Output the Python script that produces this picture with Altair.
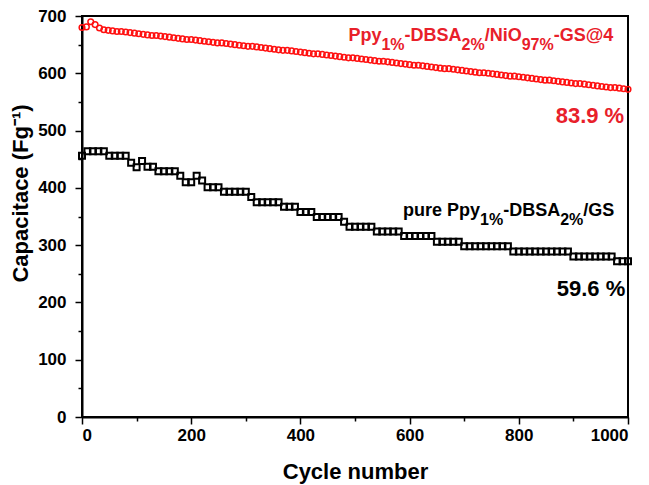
import altair as alt
import pandas as pd

# cycling data
black_cycles = list(range(0, 1001, 10))
black_cap = [456,
             464, 464, 464, 464,
             456, 456, 456, 456,
             444, 436, 447, 437, 437,
             429, 429, 429, 429,
             421, 410, 410, 421, 413,
             401, 401, 401,
             393, 393, 393, 393, 393,
             384,
             375, 375, 375, 375, 375,
             367, 367, 367,
             358, 358, 358,
             349, 349, 349, 349, 349,
             341,
             332, 332, 332, 332, 332,
             324, 324, 324, 324, 324,
             316, 316, 316, 316, 316, 316,
             306, 306, 306, 306, 306,
             298, 298, 298, 298, 298, 298, 298, 298, 298,
             289, 289, 289, 289, 289, 289, 289, 289, 289, 289, 289,
             280, 280, 280, 280, 280, 280, 280, 280,
             272, 272, 272]

red_cycles = list(range(0, 1001, 8))
red_cap = [680, 681, 690, 685, 679,
           676, 675, 674, 673, 673, 672, 671, 670, 669, 668,
           667, 666, 666, 665, 664, 663, 662, 661, 660, 659,
           659, 658, 657, 656, 655, 654, 653, 653, 652, 651,
           650, 649, 648, 647, 647, 646, 645, 644, 643, 642,
           641, 640, 640, 639, 638, 637, 636, 635, 634, 634,
           633, 632, 631, 630, 629, 628, 627, 627, 626, 625,
           624, 623, 622, 621, 621, 620, 619, 618, 617, 616,
           615, 614, 614, 613, 612, 611, 610, 609, 608, 608,
           607, 606, 605, 604, 603, 602, 601, 601, 600, 599,
           598, 597, 596, 595, 595, 594, 593, 592, 591, 590,
           589, 588, 588, 587, 586, 585, 584, 583, 582, 582,
           581, 580, 579, 578, 577, 576, 575, 575, 574, 573,
           572]

x_major = [0, 200, 400, 600, 800, 1000]
x_minor = [100, 300, 500, 700, 900]
y_major = [0, 100, 200, 300, 400, 500, 600, 700]
y_minor = [50, 150, 250, 350, 450, 550, 650]

assert len(black_cycles) == len(black_cap)
assert len(red_cycles) == len(red_cap)

black_df = pd.DataFrame({"cycle": black_cycles, "cap": black_cap})
red_df = pd.DataFrame({"cycle": red_cycles, "cap": red_cap})

FONT = "Liberation Sans"
RED = "#e8202a"
xs = alt.Scale(domain=[0, 1000], nice=False, zero=False)
ys = alt.Scale(domain=[0, 700], nice=False)

main_x = alt.Axis(values=x_major, title="Cycle number", orient="bottom", format="d",
                  titleX=273, titleY=61, titleBaseline="alphabetic", titleFontSize=22)
main_y = alt.Axis(values=y_major, title="Capacitace (Fg\u207b\u00b9)", orient="left", format="d",
                  labelPadding=9, titleX=-62, titleY=177, titleBaseline="middle", titleFontSize=22)
minor_x = alt.Axis(values=x_minor, labels=False, domain=False, tickSize=4, title="", orient="bottom")
minor_y = alt.Axis(values=y_minor, labels=False, domain=False, tickSize=4, title="", orient="left")

black = alt.Chart(black_df).mark_point(shape="square", filled=False, size=36, strokeWidth=2,
                                        color="black", opacity=1).encode(
    x=alt.X("cycle:Q", scale=xs, axis=main_x),
    y=alt.Y("cap:Q", scale=ys, axis=main_y),
)
red = alt.Chart(red_df).mark_point(shape="circle", filled=False, size=32, strokeWidth=1.5,
                                    color="#ff1010", opacity=1).encode(
    x=alt.X("cycle:Q", scale=xs, axis=None),
    y=alt.Y("cap:Q", scale=ys, axis=None),
)
minor = alt.Chart(black_df).mark_point(opacity=0).encode(
    x=alt.X("cycle:Q", scale=xs, axis=minor_x),
    y=alt.Y("cap:Q", scale=ys, axis=minor_y),
)

# approximate Arial-bold advance widths, used to chain the label pieces
W = {"p": .611, "u": .611, "r": .389, "e": .556, " ": .278, "P": .667, "y": .556,
     "1": .556, "%": .889, "-": .333, "D": .722, "B": .722, "S": .667, "A": .722,
     "2": .556, "/": .278, "G": .778, "N": .722, "i": .278, "O": .778, "9": .556,
     "7": .556, "@": .975, "4": .556}


def rich_label(pieces, x0, y0, color, main=18, sub=16, drop=9):
    layers = []
    off = 0.0
    anchor = pd.DataFrame({"x": [x0], "y": [y0]})
    for txt, is_sub in pieces:
        size = sub if is_sub else main
        layers.append(alt.Chart(anchor).mark_text(
            text=txt, align="left", baseline="alphabetic", dx=off, dy=drop if is_sub else 0,
            font=FONT, fontWeight="bold", fontSize=size, color=color).encode(
            x=alt.X("x:Q", scale=xs, axis=None), y=alt.Y("y:Q", scale=ys, axis=None)))
        off += sum(W.get(c, .556) for c in txt) * size
    return layers


def plain_label(txt, x0, y0, color, size=22):
    anchor = pd.DataFrame({"x": [x0], "y": [y0]})
    return alt.Chart(anchor).mark_text(
        text=txt, align="right", baseline="alphabetic", font=FONT, fontWeight="bold",
        fontSize=size, color=color).encode(
        x=alt.X("x:Q", scale=xs, axis=None), y=alt.Y("y:Q", scale=ys, axis=None))


red_label = rich_label([("Ppy", False), ("1%", True), ("-DBSA", False), ("2%", True),
                        ("/NiO", False), ("97%", True), ("-GS@4", False)], 488, 656, RED)
black_label = rich_label([("pure Ppy", False), ("1%", True), ("-DBSA", False), ("2%", True),
                          ("/GS", False)], 588, 351, "black", drop=9.5)

chart = alt.layer(
    black, red, minor, *red_label, *black_label,
    plain_label("83.9 %", 993, 513, RED),
    plain_label("59.6 %", 995, 212, "black"),
).resolve_axis(x="independent", y="independent").properties(
    width=546, height=401, autosize="none",
    padding={"left": 74, "top": 8, "right": 13, "bottom": 70},
).configure_view(stroke="black", strokeWidth=2).configure_axis(
    grid=False, domainColor="black", domainWidth=2, tickColor="black", tickWidth=1.5,
    tickSize=7, labelFont=FONT, labelFontWeight="bold", labelFontSize=17, labelColor="black",
    labelPadding=3, titleFont=FONT, titleFontWeight="bold", titleColor="black",
)

chart.save("out.html", embed_options={"renderer": "svg", "actions": False})
